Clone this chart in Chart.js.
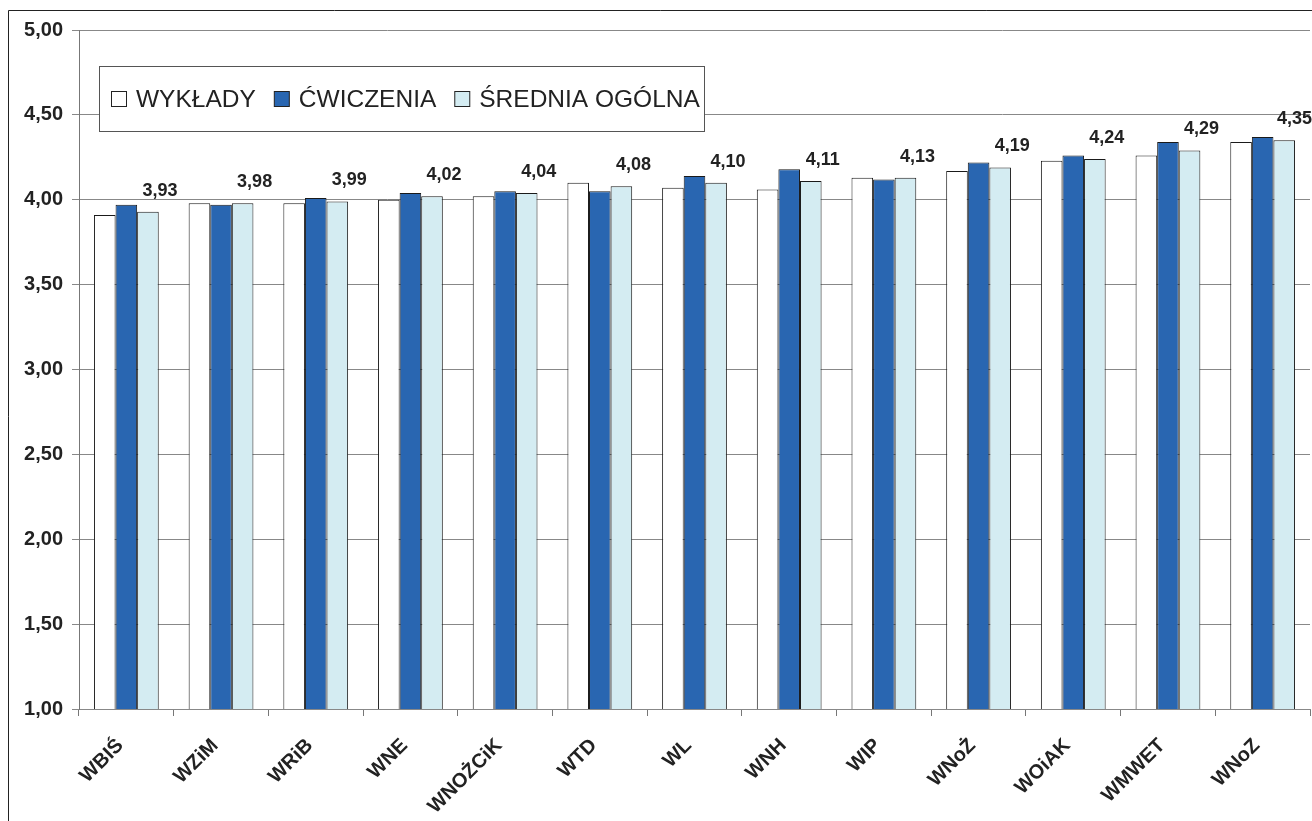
<!DOCTYPE html>
<html>
<head>
<meta charset="utf-8">
<script src="https://cdn.jsdelivr.net/npm/chart.js@4/dist/chart.umd.min.js"></script>
<style>
html,body{margin:0;padding:0;background:#fff;overflow:hidden;}
canvas{display:block;}
</style>
</head>
<body>
<canvas id="c" width="1312" height="821"></canvas>
<script>
const categories = ['WBIŚ','WZiM','WRiB','WNE','WNOŻCiK','WTD','WL','WNH','WIP','WNoŻ','WOiAK','WMWET','WNoZ'];
const wyklady   = [3.91,3.98,3.98,4.00,4.02,4.10,4.07,4.06,4.13,4.17,4.23,4.26,4.34];
const cwiczenia = [3.97,3.97,4.01,4.04,4.05,4.05,4.14,4.18,4.12,4.22,4.26,4.34,4.37];
const srednia   = [3.93,3.98,3.99,4.02,4.04,4.08,4.10,4.11,4.13,4.19,4.24,4.29,4.35];
const seriesNames = ['WYKŁADY','ĆWICZENIA','ŚREDNIA OGÓLNA'];
const yTicks = [1.0,1.5,2.0,2.5,3.0,3.5,4.0,4.5,5.0];

const colors = ['#ffffff','#2966b1','#d4ecf2'];
const FONT = '"Liberation Sans", Arial, sans-serif';
const fmt = v => v.toFixed(2).replace('.', ',');

const bgPlugin = {
  id: 'bg',
  beforeDraw(chart){
    const c = chart.ctx;
    c.save(); c.fillStyle = '#fff'; c.fillRect(0,0,chart.width,chart.height); c.restore();
  },
  afterDraw(chart){
    const c = chart.ctx;
    c.save();
    c.strokeStyle = '#222'; c.lineWidth = 1;
    c.beginPath();
    c.moveTo(8.5, chart.height + 2); c.lineTo(8.5, 10.5); c.lineTo(chart.width + 2, 10.5);
    c.stroke();
    c.restore();
  }
};

const labelPlugin = {
  id: 'vals',
  afterDatasetsDraw(chart){
    const c = chart.ctx;
    const meta = chart.getDatasetMeta(2);
    c.save();
    c.font = 'bold 18px ' + FONT;
    c.fillStyle = '#222';
    c.textAlign = 'center';
    c.textBaseline = 'middle';
    meta.data.forEach((el, i) => {
      const t = fmt(srednia[i]);
      const w = c.measureText(t).width;
      let x = el.x + 12;
      x = Math.min(x, chart.width - w/2);
      c.fillText(t, x, el.y - 21);
    });
    c.restore();
  }
};

const legendPlugin = {
  id: 'boxLegend',
  afterDraw(chart){
    const c = chart.ctx;
    const L = 99.5, T = 66.5, R = 704.5, B = 131.5;
    c.save();
    c.fillStyle = '#fff';
    c.fillRect(L, T, R-L, B-T);
    c.strokeStyle = '#555'; c.lineWidth = 1;
    c.strokeRect(L, T, R-L, B-T);
    c.font = '24.5px ' + FONT;
    c.textBaseline = 'middle';
    c.textAlign = 'left';
    const cy = 99;
    let x = 111;
    seriesNames.forEach((n, i) => {
      c.fillStyle = colors[i];
      c.fillRect(x + 0.5, cy - 7.5, 15, 15);
      c.strokeStyle = '#222';
      c.strokeRect(x + 0.5, cy - 7.5, 15, 15);
      c.fillStyle = '#222';
      c.fillText(n, x + 25, cy + 1);
      x += 25 + c.measureText(n).width + 18;
    });
    c.restore();
  }
};

new Chart(document.getElementById('c'), {
  type: 'bar',
  data: {
    labels: categories,
    datasets: [wyklady, cwiczenia, srednia].map((d, i) => ({
      label: seriesNames[i],
      data: d,
      backgroundColor: colors[i],
      borderColor: '#1a1a1a',
      borderWidth: 1,
      borderSkipped: false,
      categoryPercentage: 0.684,
      barPercentage: 1.0
    }))
  },
  options: {
    responsive: false,
    animation: false,
    devicePixelRatio: 1,
    layout: { padding: { left: 0, top: 30, right: 2, bottom: 0 } },
    plugins: { legend: { display: false }, tooltip: { enabled: false } },
    scales: {
      x: {
        afterFit(s){ s.height = 112; },
        grid: { drawOnChartArea: false, drawTicks: true, tickLength: 7, offset: true, color: '#777' },
        border: { display: true, color: '#888' },
        ticks: {
          color: '#222',
          font: { family: FONT, size: 20, weight: 'bold' },
          maxRotation: 45, minRotation: 45,
          padding: 18,
          labelOffset: -6,
          autoSkip: false
        }
      },
      y: {
        min: 1, max: 5,
        afterFit(s){ s.width = 79; },
        afterBuildTicks(s){ s.ticks = yTicks.map(v => ({ value: v })); },
        grid: { color: '#888', tickLength: 7, drawTicks: true },
        border: { display: true, color: '#777' },
        ticks: {
          color: '#222',
          padding: 9,
          font: { family: FONT, size: 20, weight: 'bold' },
          callback: v => fmt(v)
        }
      }
    }
  },
  plugins: [bgPlugin, labelPlugin, legendPlugin]
});
</script>
</body>
</html>
